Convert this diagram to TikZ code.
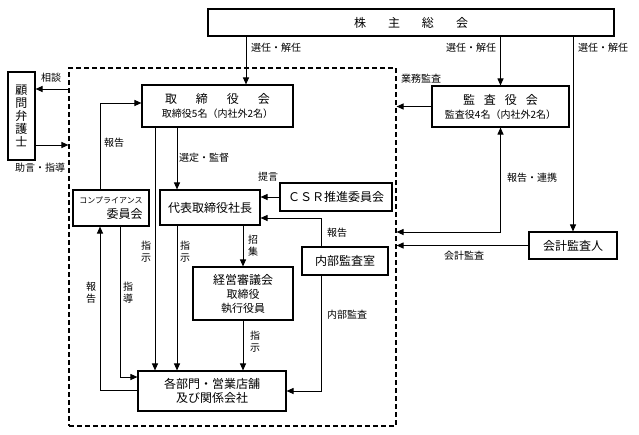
\documentclass[tikz,border=0pt]{standalone}
\usepackage{fontspec}
\setmainfont{Noto Sans CJK JP}
\usetikzlibrary{arrows.meta}

\begin{document}
\begin{tikzpicture}[x = 1pt, y = -1pt,
    box/.style = {draw, line width = 1.1pt, inner sep = 0pt, align = center,
      font = \fontsize{12}{14}\selectfont},
    lab/.style = {inner sep = 0pt, align = center, font = \fontsize{10}{12}\selectfont},
    line/.style = {line width = 1pt},
    arr/.style = {line, -{Triangle[length = 7pt, width = 6pt]}},
    dblarr/.style = {line, {Triangle[length = 7pt, width = 6pt]}-{Triangle[length = 7pt, width = 6pt]}}]
  \useasboundingbox (0, 0) rectangle (639, 434);

  \node[draw, line width = 1.1pt, dash pattern = on 5pt off 3pt,
    minimum width = 327pt, minimum height = 358pt] (group) at (232.5, 247) {};

  \node[box, minimum width = 406pt, minimum height = 27pt] (soukai) at (411, 22.5)
    {株\hspace{22pt}主\hspace{22pt}総\hspace{22pt}会};
  \node[box, minimum width = 27pt, minimum height = 88pt, font = \fontsize{12}{13}\selectfont]
    (bengoshi) at (21.5, 116) {顧\\問\\弁\\護\\士};
  \node[box, minimum width = 151pt, minimum height = 42pt] (torishimari) at (217.5, 106)
    {取\hspace{19pt}締\hspace{19pt}役\hspace{19pt}会\\{\fontsize{10}{12}\selectfont 取締役5名（内社外2名）}};
  \node[box, minimum width = 137pt, minimum height = 41pt] (kansayaku) at (500.5, 106.5)
    {監\hspace{9pt}査\hspace{9pt}役\hspace{9pt}会\\{\fontsize{10}{12}\selectfont 監査役4名（内社外2名）}};
  \node[box, align = right, minimum width = 76pt, minimum height = 36pt] (compliance) at (111, 208)
    {{\fontsize{8}{10}\selectfont コンプライアンス}\\[1pt]委員会};
  \node[box, minimum width = 100pt, minimum height = 35pt] (shacho) at (210, 207.5) {代表取締役社長};
  \node[box, minimum width = 112pt, minimum height = 28pt] (csr) at (336, 197) {ＣＳＲ推進委員会};
  \node[box, minimum width = 86pt, minimum height = 28pt] (naibu) at (345, 261) {内部監査室};
  \node[box, minimum width = 100pt, minimum height = 53pt] (shingikai) at (243, 293.5)
    {経営審議会\\{\fontsize{11}{14}\selectfont 取締役}\\{\fontsize{11}{14}\selectfont 執行役員}};
  \node[box, minimum width = 148pt, minimum height = 40pt] (kakubumon) at (212, 391)
    {各部門・営業店舗\\及び関係会社};
  \node[box, minimum width = 88pt, minimum height = 27pt] (kaikei) at (573, 245.5) {会計監査人};

  \coordinate (x1) at (246, 0);
  \coordinate (x2) at (155, 0);
  \coordinate (x3) at (177, 0);
  \coordinate (x4) at (100, 0);
  \coordinate (x5) at (120, 0);
  \coordinate (x6) at (321, 0);
  \coordinate (y1) at (0, 89);
  \coordinate (y2) at (0, 145);
  \coordinate (y3) at (0, 103);
  \coordinate (y4) at (0, 390);
  \coordinate (y5) at (0, 377);
  \coordinate (y6) at (0, 218);
  \coordinate (y7) at (0, 232);

  % 株主総会
  \draw[arr] (x1 |- soukai.south) -- (x1 |- torishimari.north);
  \draw[arr] (kansayaku.north |- soukai.south) -- (kansayaku.north);
  \draw[arr] (kaikei.north |- soukai.south) -- (kaikei.north);

  % 顧問弁護士
  \draw[arr] (group.west |- y1) -- (bengoshi.east |- y1);
  \draw[arr] (bengoshi.east |- y2) -- (group.west |- y2);

  % 取締役会・代表取締役社長
  \draw[arr] (x2 |- torishimari.south) -- (x2 |- kakubumon.north);
  \draw[arr] (x3 |- torishimari.south) -- (x3 |- shacho.north);
  \draw[arr] (x3 |- shacho.south) -- (x3 |- kakubumon.north);
  \draw[arr] (shingikai.north |- shacho.south) -- (shingikai.north);
  \draw[arr] (shingikai.south) -- (shingikai.south |- kakubumon.north);

  % コンプライアンス委員会
  \draw[arr] (x4 |- compliance.north) |- (torishimari.west |- y3);
  \draw[arr] (kakubumon.west |- y4) -| (x4 |- compliance.south);
  \draw[arr] (x5 |- compliance.south) |- (kakubumon.west |- y5);

  % CSR・内部監査室
  \draw[arr] (csr.west) -- (shacho.east |- csr.west);
  \draw[arr] (x6 |- naibu.north) |- (shacho.east |- y6);
  \draw[arr] (x6 |- naibu.south) |- (kakubumon.east);

  % 監査役会・会計監査人
  \draw[arr] (kansayaku.west) -- (group.east |- kansayaku.west);
  \draw[dblarr] (group.east |- y7) -| (kansayaku.south);
  \draw[arr] (kaikei.west) -- (group.east |- kaikei.west);

  \node[lab] (l-sennin1) at (276, 48) {選任・解任};
  \node[lab] (l-sennin2) at (471, 48) {選任・解任};
  \node[lab] (l-sennin3) at (603, 48) {選任・解任};
  \node[lab] (l-soudan) at (51, 78) {相談};
  \node[lab] (l-jogen) at (40, 168) {助言・指導};
  \node[lab] (l-houkoku1) at (114, 143) {報告};
  \node[lab] (l-sentei) at (204, 158) {選定・監督};
  \node[lab] (l-teigen) at (268, 177) {提言};
  \node[lab] (l-houkoku2) at (337, 233) {報告};
  \node[lab] (l-shiji1) at (146, 252) {指\\示};
  \node[lab] (l-shiji2) at (185, 252) {指\\示};
  \node[lab] (l-shoushuu) at (253, 246) {招\\集};
  \node[lab] (l-houkoku3) at (91, 293) {報\\告};
  \node[lab] (l-shidou) at (128, 293) {指\\導};
  \node[lab] (l-shiji3) at (255, 342) {指\\示};
  \node[lab] (l-naibukansa) at (347, 315) {内部監査};
  \node[lab] (l-gyoumu) at (421, 79) {業務監査};
  \node[lab] (l-renkei) at (532, 178) {報告・連携};
  \node[lab] (l-kaikeikansa) at (464, 256) {会計監査};
\end{tikzpicture}
\end{document}
